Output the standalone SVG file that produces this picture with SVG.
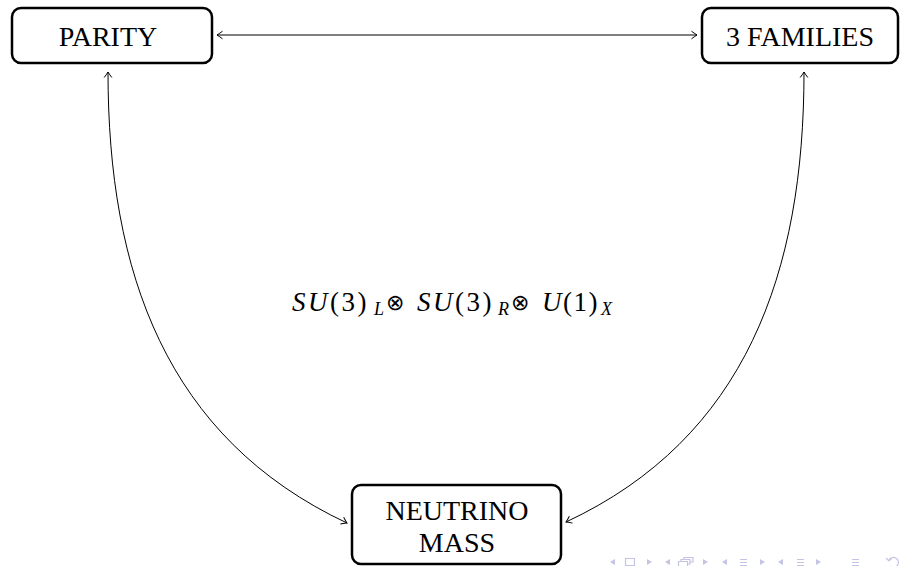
<svg xmlns="http://www.w3.org/2000/svg" width="900" height="566" viewBox="0 0 900 566">
<style>
.box{fill:#fff;stroke:#000;stroke-width:2.5}
.lbl{font-size:28px;fill:#000;text-anchor:middle}
.edge{fill:none;stroke:#000;stroke-width:1}
.nav{fill:none;stroke:#c4c4e4;stroke-width:1.2}
.navf{fill:#c4c4e4;stroke:none}
</style>
<defs>
<marker id="arr" markerUnits="userSpaceOnUse" markerWidth="12" markerHeight="12" refX="0" refY="0" viewBox="-7 -6 8 12" orient="auto-start-reverse" overflow="visible">
<path d="M-5.5,-3.8 Q-1.6,-0.9 0,0 Q-1.6,0.9 -5.5,3.8" fill="none" stroke="#000" stroke-width="1"/>
</marker>
</defs>
<rect width="900" height="566" fill="#fff"/>
<g id="connectors">
<path class="edge" d="M217,35 L697,35" marker-start="url(#arr)" marker-end="url(#arr)"/>
<path class="edge" d="M108,72 C108,272 166,438 347,523" marker-start="url(#arr)" marker-end="url(#arr)"/>
<path class="edge" d="M804,72 C804,272 746,438 566,522" marker-start="url(#arr)" marker-end="url(#arr)"/>
</g>
<g id="parity">
<rect class="box" x="12" y="8" width="200" height="55" rx="9"/>
<text class="lbl" x="108" y="46" font-family="Liberation Serif">PARITY</text>
</g>
<g id="families">
<rect class="box" x="702" y="8" width="196" height="55" rx="9"/>
<text class="lbl" x="800" y="46" font-family="Liberation Serif">3 FAMILIES</text>
</g>
<g id="neutrino">
<rect class="box" x="352" y="485" width="209" height="79" rx="9"/>
<text class="lbl" x="457" y="520" font-family="Liberation Serif">NEUTRINO</text>
<text class="lbl" x="457" y="552" font-family="Liberation Serif">MASS</text>
</g>
<g id="formula">
<text x="292" y="311" font-family="Liberation Serif" font-size="27" letter-spacing="2.5"><tspan font-style="italic">SU</tspan>(3)</text>
<text x="374" y="315" font-family="Liberation Serif" font-size="18" font-style="italic">L</text>
<text x="395" y="310" font-family="Liberation Serif" font-size="22" text-anchor="middle">⊗</text>
<text x="417" y="311" font-family="Liberation Serif" font-size="27" letter-spacing="2.5"><tspan font-style="italic">SU</tspan>(3)</text>
<text x="498" y="315" font-family="Liberation Serif" font-size="18" font-style="italic">R</text>
<text x="520" y="310" font-family="Liberation Serif" font-size="22" text-anchor="middle">⊗</text>
<text x="542" y="311" font-family="Liberation Serif" font-size="27" letter-spacing="1.5"><tspan font-style="italic">U</tspan>(1)</text>
<text x="601" y="315" font-family="Liberation Serif" font-size="18" font-style="italic">X</text>
</g>
<g id="navigation">
<path class="navf" d="M610,562 L615,559 L615,565 Z M652,562 L647,559 L647,565 Z M665,562 L670,559 L670,565 Z M708,562 L703,559 L703,565 Z M722,562 L727,559 L727,565 Z M765,562 L760,559 L760,565 Z M778,562 L783,559 L783,565 Z M821,562 L816,559 L816,565 Z"/>
<path class="nav" d="M625.5,558.5 H634.5 V565.5 H625.5 Z M678.5,561.5 H687.5 V566.5 H678.5 Z M681,561 V559.5 H690 V564 H688 M684,559 V557.5 H693 V562 H690 M740,559.5 H747 M740,562.5 H747 M740,565.5 H747 M797,559.5 H804 M797,562.5 H804 M797,565.5 H804 M852,559.5 H859 M852,562.5 H859 M852,565.5 H859 M889,560 A5,5 0 1 1 890,566 M886,558 L889,561 L892,558"/>
</g>
</svg>
